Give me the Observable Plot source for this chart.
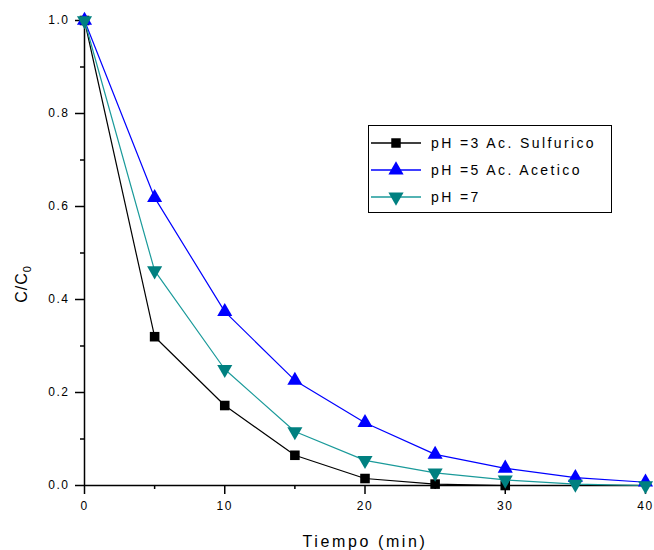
<!DOCTYPE html>
<html><head><meta charset="utf-8">
<script src="https://cdn.jsdelivr.net/npm/d3@7"></script>
<script src="https://cdn.jsdelivr.net/npm/@observablehq/plot@0.6"></script>
<style>
body{margin:0;background:#fff;font-family:"Liberation Sans",Arial,sans-serif}
#wrap{position:relative;width:654px;height:550px}
#legend{position:absolute;left:368px;top:125px;width:244px;height:88px;border:1px solid #000;background:#fff;box-sizing:border-box;padding-top:3px}
.row{display:flex;align-items:center;height:27px;font-size:14px;letter-spacing:2.4px;color:#000}
.row svg{margin-left:2px;margin-right:8px}
</style>
</head><body><div id="wrap"><div id="legend"></div></div>
<script>
const tiempo = [0,5,10,15,20,25,30,35,40];
const seriesNames = ["pH =3 Ac. Sulfurico","pH =5 Ac. Acetico","pH =7"];
const ph3 = [1.0,0.32,0.172,0.065,0.015,0.003,0.0];
const ph5 = [1.0,0.619,0.374,0.226,0.135,0.067,0.037,0.017,0.007];
const ph7 = [1.0,0.462,0.25,0.116,0.054,0.027,0.012,0.003,0.0];
const xTicks = [0,10,20,30,40];
const xMinor = [5,15,25,35];
const yTicks = [0,0.2,0.4,0.6,0.8,1.0];
const yMinor = [0.1,0.3,0.5,0.7,0.9];
const markerColors = ["#000000","#0000ff","#008080"];
const lineColors = ["#000000","#0000ff","#1a9a9a"];

const triDown = {draw(context, size){
  const s3 = Math.sqrt(3);
  const y = -Math.sqrt(size/(s3*3));
  context.moveTo(0,-y*2);
  context.lineTo(-s3*y, y);
  context.lineTo(s3*y, y);
  context.closePath();
}};
const symbols = ["square","triangle",triDown];
const d3symbols = [d3.symbolSquare, d3.symbolTriangle, triDown];

const series = [ph3, ph5, ph7].map((vals,i)=>vals.map((v,j)=>({t:tiempo[j], v, s:seriesNames[i]})));

const marks = [
  Plot.axisX({ticks:xTicks, tickSize:9, tickPadding:7, label:null, tickFormat:d=>String(d), strokeWidth:1.5}),
  Plot.axisX({ticks:xMinor, tickSize:4, tickFormat:()=>"", label:null, strokeWidth:1.5}),
  Plot.axisY({ticks:yTicks, tickSize:9, tickPadding:6, tickFormat:d3.format(".1f"), label:null, strokeWidth:1.5}),
  Plot.axisY({ticks:yMinor, tickSize:4, tickFormat:()=>"", label:null, strokeWidth:1.5}),
  Plot.ruleX([0],{stroke:"#000", strokeWidth:1.5}),
  Plot.ruleY([0],{stroke:"#000", strokeWidth:1.5})
];
series.forEach((d,i)=>{
  marks.push(Plot.line(d,{x:"t",y:"v",stroke:lineColors[i],strokeWidth:1.2}));
});
series.forEach((d,i)=>{
  marks.push(Plot.dot(d,{x:"t",y:"v",symbol:()=>symbols[i],fill:markerColors[i],stroke:"none",r:i===0?5.4:5.6}));
});

const chart = Plot.plot({
  width:654, height:550, marginLeft:84, marginRight:9, marginTop:20, marginBottom:65,
  x:{domain:[0,40]}, y:{domain:[0,1]},
  symbol:{type:"identity"},
  style:{fontFamily:"Liberation Sans, Arial, sans-serif", fontSize:"12px", letterSpacing:"1.5px", color:"#000", background:"#fff", overflow:"visible"},
  marks
});
document.getElementById("wrap").prepend(chart);

const svg = d3.select(chart);
svg.append("text").attr("x",365).attr("y",547).attr("text-anchor","middle")
  .attr("font-size",16).style("letter-spacing","2.6px").attr("fill","#000").text("Tiempo (min)");
const yl = svg.append("text").attr("transform","translate(27,284) rotate(-90)").attr("text-anchor","middle")
  .attr("font-size",16).style("letter-spacing","1px").attr("fill","#000");
yl.append("tspan").text("C/C");
yl.append("tspan").attr("font-size",11).attr("dy",4).text("0");

const legend = d3.select("#legend");
seriesNames.forEach((name,i)=>{
  const row = legend.append("div").attr("class","row");
  const s = row.append("svg").attr("width",52).attr("height",20);
  s.append("line").attr("x1",0).attr("x2",50).attr("y1",10).attr("y2",10).attr("stroke",lineColors[i]).attr("stroke-width",1.3);
  s.append("path").attr("transform","translate(25,10)").attr("d",d3.symbol(d3symbols[i], i===0?90:100)()).attr("fill",markerColors[i]);
  row.append("span").style("white-space","pre").text(name);
});
</script>
</body></html>
